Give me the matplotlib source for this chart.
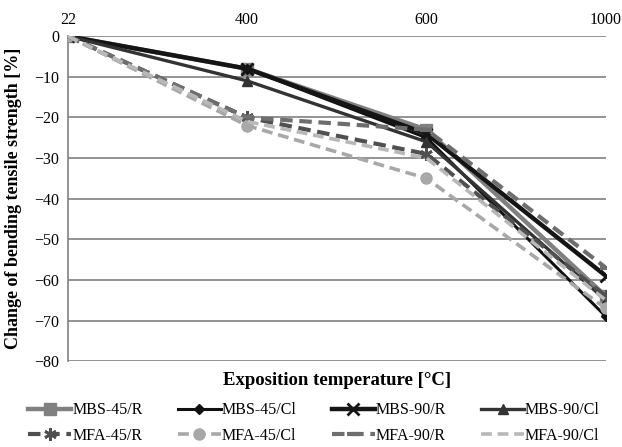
import matplotlib.pyplot as plt

# datos
temperaturas = ['22', '400', '600', '1000']
mbs_45_r = [0, -8, -23, -64]
mbs_45_cl = [0, -8, -25, -69]
mbs_90_r = [0, -8, -24, -59]
mbs_90_cl = [0, -11, -26, -65]
mfa_45_r = [0, -20, -29, -64]
mfa_45_cl = [0, -22, -35, -67]
mfa_90_r = [0, -20, -23, -57]
mfa_90_cl = [0, -21, -30, -65]

plt.rcParams['font.family'] = ['Liberation Serif', 'DejaVu Serif']

fig = plt.figure(figsize=(6.22, 4.47), dpi=100)
ax = fig.add_axes([0.109, 0.192, 0.865, 0.727])

x = range(len(temperaturas))
dash = (0, (3, 1.6))

series = [
    ('MBS-45/R', mbs_45_r, dict(color='#808080', lw=3.2, ls='-', marker='s', ms=9)),
    ('MBS-45/Cl', mbs_45_cl, dict(color='#111111', lw=2.2, ls='-', marker='D', ms=5)),
    ('MBS-90/R', mbs_90_r, dict(color='#151515', lw=3.2, ls='-', marker='x', ms=9, mew=2)),
    ('MBS-90/Cl', mbs_90_cl, dict(color='#333333', lw=2.4, ls='-', marker='^', ms=7)),
    ('MFA-45/R', mfa_45_r, dict(color='#505050', lw=3.0, ls=dash, marker=(6, 2, 0), ms=9, mew=2)),
    ('MFA-45/Cl', mfa_45_cl, dict(color='#a8a8a8', lw=2.6, ls=dash, marker='o', ms=8)),
    ('MFA-90/R', mfa_90_r, dict(color='#6e6e6e', lw=3.0, ls=dash, marker='_', ms=9, mew=3)),
    ('MFA-90/Cl', mfa_90_cl, dict(color='#b8b8b8', lw=2.6, ls=dash)),
]

handles = []
for nombre, vals, estilo in series:
    h, = ax.plot(x, vals, label=nombre, zorder=3, **estilo)
    handles.append(h)

ax.set_xlim(0, 3)
ax.set_ylim(-80, 0)
ax.set_yticks(range(-80, 1, 10))
ax.set_xticks(list(x))
ax.set_xticklabels(temperaturas)
ax.xaxis.tick_top()
ax.tick_params(axis='both', length=0, labelsize=11.5, pad=6)
ax.set_axisbelow(True)
ax.grid(axis='y', color='#808080', lw=1.2)
for s in ['top', 'right', 'bottom']:
    ax.spines[s].set_visible(False)
ax.spines['left'].set_color('#808080')
ax.spines['left'].set_linewidth(1.2)

ax.set_ylabel('Change of bending tensile strength [%]', fontsize=13, fontweight='bold', labelpad=9)
ax.set_xlabel('Exposition temperature [°C]', fontsize=13.5, fontweight='bold', labelpad=8)

# orden por filas como en excel
orden = [0, 4, 1, 5, 2, 6, 3, 7]
fig.legend([handles[i] for i in orden], [handles[i].get_label() for i in orden],
           loc='lower center', bbox_to_anchor=(0.505, -0.025), ncol=4, frameon=False,
           fontsize=11.5, handlelength=2.7, handletextpad=0.05, columnspacing=2.2,
           labelspacing=0.6)

fig.savefig('out.png', dpi=100)
